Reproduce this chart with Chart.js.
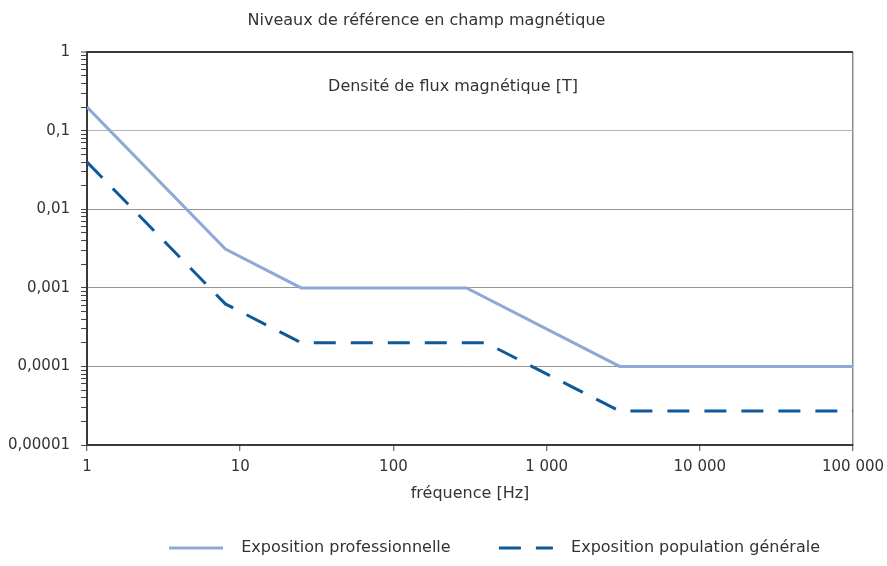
<!DOCTYPE html>
<html>
<head>
<meta charset="utf-8">
<script src="https://cdn.jsdelivr.net/npm/chart.js@4/dist/chart.umd.min.js"></script>
<style>
  html, body { margin: 0; padding: 0; background: #fff; }
  #wrap { width: 887px; height: 566px; }
</style>
</head>
<body>
<div id="wrap"><canvas id="magChart"></canvas></div>
<script>
// Frequencies (Hz) and reference levels (T)
const proFreq = [1, 8, 25, 300, 3000, 100000];
const proLevel = [0.2, 0.003125, 0.001, 0.001, 0.0001, 0.0001];
const pubFreq = [1, 8, 25, 400, 3000, 100000];
const pubLevel = [0.04, 0.000625, 0.0002, 0.0002, 0.000027, 0.000027];

const seriesNames = ['Exposition professionnelle', 'Exposition population générale'];

// Axis ticks
const xDecades = [1, 10, 100, 1000, 10000, 100000];
const xTickLabels = ['1', '10', '100', '1 000', '10 000', '100 000'];
const yDecades = [0.00001, 0.0001, 0.001, 0.01, 0.1, 1];
const yTickLabels = ['0,00001', '0,0001', '0,001', '0,01', '0,1', '1'];

// minor ticks 2..9 in every decade, for the little marks on the left axis
const yTickValues = [];
yDecades.forEach((d, i) => {
    yTickValues.push(d);
    if (i < yDecades.length - 1) {
        for (let m = 2; m <= 9; m++) yTickValues.push(m * d);
    }
});

function decadeIndex(list, v) {
    return list.findIndex(d => Math.abs(Math.log10(d) - Math.log10(v)) < 1e-6);
}

const FONT = '"DejaVu Sans", Roboto, sans-serif';
Chart.defaults.font.family = FONT;
Chart.defaults.font.size = 16;
Chart.defaults.color = '#333';

// text written inside the plot, top middle
const innerLabel = {
    id: 'innerLabel',
    afterDraw(chart) {
        const a = chart.chartArea;
        const c = chart.ctx;
        c.save();
        c.font = '16px ' + FONT;
        c.fillStyle = '#333';
        c.textAlign = 'center';
        c.textBaseline = 'middle';
        c.fillText('Densité de flux magnétique [T]', a.left + 366, a.top + 35);
        c.restore();
    }
};

const ctx = document.getElementById('magChart').getContext('2d');

new Chart(ctx, {
    type: 'line',
    data: {
        datasets: [{
            label: seriesNames[0],
            data: proFreq.map((f, i) => ({x: f, y: proLevel[i]})),
            borderColor: '#8fa8d5',
            borderWidth: 3,
            pointRadius: 0,
            tension: 0
        }, {
            label: seriesNames[1],
            data: pubFreq.map((f, i) => ({x: f, y: pubLevel[i]})),
            borderColor: '#0d5a9b',
            borderWidth: 3,
            borderDash: [22, 15],
            pointRadius: 0,
            tension: 0
        }]
    },
    options: {
        responsive: true,
        maintainAspectRatio: false,
        animation: false,
        layout: {
            padding: {left: 0, right: 34, top: 0, bottom: 0}
        },
        scales: {
            x: {
                type: 'logarithmic',
                min: 1,
                max: 100000,
                afterBuildTicks: scale => {
                    scale.ticks = xDecades.map(v => ({value: v}));
                },
                afterFit: scale => {
                    scale.height = 62;
                    scale.paddingLeft = 0;
                    scale.paddingRight = 0;
                },
                ticks: {
                    autoSkip: false,
                    maxRotation: 0,
                    padding: 7,
                    color: '#333',
                    font: {size: 15},
                    callback: v => {
                        const i = decadeIndex(xDecades, v);
                        return i >= 0 ? xTickLabels[i] : '';
                    }
                },
                grid: {
                    color: c => (c.tick && c.tick.value === 100000) ? '#8a8a8a' : 'rgba(0,0,0,0)',
                    lineWidth: 1.5,
                    tickColor: '#444',
                    tickWidth: 1,
                    tickLength: 6
                },
                border: {color: '#3a3a3a', width: 2},
                title: {
                    display: true,
                    text: 'fréquence [Hz]',
                    color: '#333',
                    padding: {top: 0, bottom: 4}
                }
            },
            y: {
                type: 'logarithmic',
                min: 0.00001,
                max: 1,
                afterBuildTicks: scale => {
                    scale.ticks = yTickValues.map(v => ({value: v}));
                },
                afterFit: scale => { scale.width = 87; },
                ticks: {
                    autoSkip: false,
                    padding: 11,
                    color: '#333',
                    font: {size: 15},
                    callback: v => {
                        const i = decadeIndex(yDecades, v);
                        return i >= 0 ? yTickLabels[i] : '';
                    }
                },
                grid: {
                    color: c => {
                        if (!c.tick) return 'rgba(0,0,0,0)';
                        const i = decadeIndex(yDecades, c.tick.value);
                        if (i < 0) return 'rgba(0,0,0,0)';
                        if (i === yDecades.length - 1) return '#3a3a3a';
                        return i === yDecades.length - 2 ? '#b3b3b3' : '#949494';
                    },
                    lineWidth: c => (c.tick && c.tick.value === 1) ? 2 : 1,
                    tickColor: '#444',
                    tickWidth: 1,
                    tickLength: 6
                },
                border: {color: '#3a3a3a', width: 2}
            }
        },
        plugins: {
            title: {
                display: true,
                text: 'Niveaux de référence en champ magnétique',
                color: '#333',
                font: {size: 16, weight: 'normal'},
                padding: {top: 11, bottom: 22}
            },
            legend: {
                position: 'bottom',
                align: 'end',
                labels: {
                    usePointStyle: true,
                    pointStyleWidth: 54,
                    padding: 33,
                    color: '#333',
                    generateLabels: chart => chart.data.datasets.map((ds, i) => ({
                        text: '  ' + ds.label + (i === 0 ? '   ' : ''),
                        fillStyle: ds.borderColor,
                        strokeStyle: ds.borderColor,
                        lineWidth: 3,
                        lineDash: ds.borderDash || [],
                        pointStyle: 'line',
                        hidden: false,
                        datasetIndex: i,
                        fontColor: '#333'
                    }))
                }
            },
            tooltip: {enabled: false}
        }
    },
    plugins: [innerLabel]
});
</script>
</body>
</html>
